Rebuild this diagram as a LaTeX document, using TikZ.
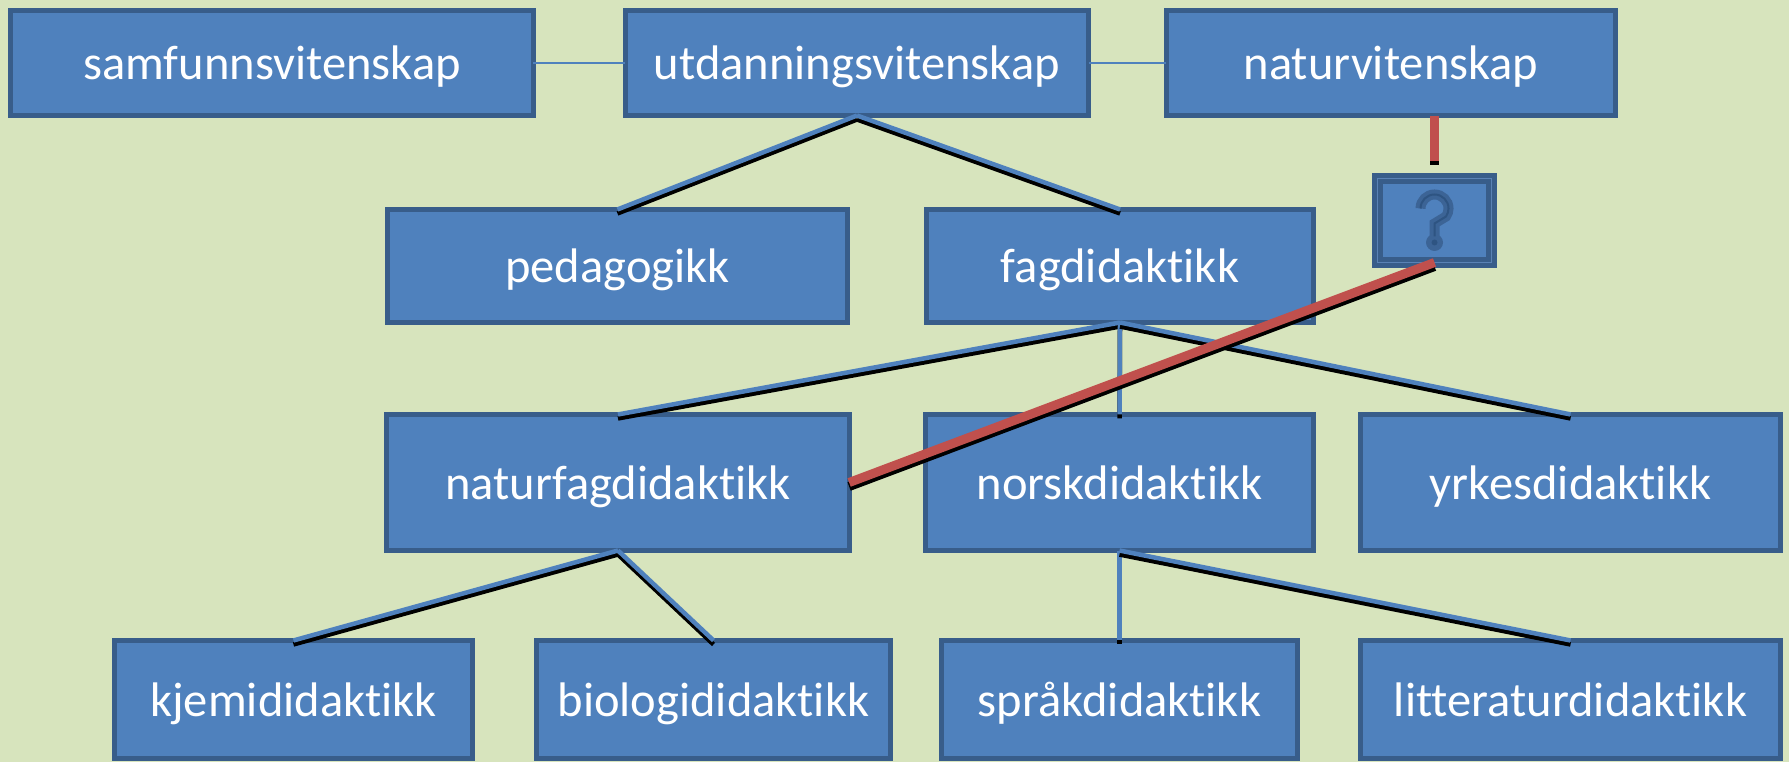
\documentclass[tikz,border=0pt]{standalone}
\usepackage{fontspec}
\setmainfont{Carlito}[Ligatures=NoCommon]
\definecolor{bggreen}{HTML}{D7E4BD}
\definecolor{boxblue}{HTML}{4F81BD}
\definecolor{boxedge}{HTML}{385D8A}
\definecolor{linkred}{HTML}{C0504D}
\definecolor{qline}{HTML}{5A82B5}
\definecolor{qicon}{HTML}{3C6496}
\definecolor{qdark}{HTML}{2E5482}

\begin{document}
\begin{tikzpicture}[x=0.01cm, y=-0.01cm,
    fag_node/.style={rectangle, draw=boxedge, fill=boxblue, line width=0.05cm, inner sep=0pt, outer sep=0pt, text=white, text height=10.5pt, text depth=1pt, font=\fontsize{13.8}{16}\selectfont},
    q_node/.style={rectangle, draw=boxedge, double=qline, double distance=0.01cm, fill=boxblue, line width=0.05cm, inner sep=0pt, outer sep=0pt, minimum width=1.14cm, minimum height=0.84cm},
    link_line/.style={draw=boxblue, line width=0.045cm, preaction={draw=black, line width=0.045cm, transform canvas={yshift=-0.04cm}}},
    red_line/.style={draw=linkred, line width=0.09cm, preaction={draw=black, line width=0.09cm, transform canvas={yshift=-0.04cm}}},
    thin_line/.style={draw=boxblue, line width=0.015cm}]

    \fill[bggreen] (0,0) rectangle (1789,762);
    \useasboundingbox (0,0) rectangle (1789,762);

    \node[fag_node, minimum width=5.22cm, minimum height=1.05cm] (samf) at (272,63) {samfunnsvitenskap};
    \node[fag_node, minimum width=4.63cm, minimum height=1.05cm] (utd) at (857,63) {utdanningsvitenskap};
    \node[fag_node, minimum width=4.49cm, minimum height=1.05cm] (natvit) at (1391,63) {naturvitenskap};

    \node[fag_node, minimum width=4.60cm, minimum height=1.13cm] (ped) at (617.5,266) {pedagogikk};
    \node[fag_node, minimum width=3.87cm, minimum height=1.13cm] (fag) at (1120,266) {fagdidaktikk};
    \node[q_node] (q) at (1434.5,220.5) {};

    \node[fag_node, minimum width=4.62cm, minimum height=1.36cm] (natfag) at (618,482.5) {naturfagdidaktikk};
    \node[fag_node, minimum width=3.88cm, minimum height=1.36cm] (norsk) at (1119.5,482.5) {norskdidaktikk};
    \node[fag_node, minimum width=4.20cm, minimum height=1.36cm] (yrkes) at (1570.5,482.5) {yrkesdidaktikk};

    \node[fag_node, minimum width=3.58cm, minimum height=1.18cm] (kjemi) at (293.5,699.5) {kjemididaktikk};
    \node[fag_node, minimum width=3.54cm, minimum height=1.18cm] (bio) at (713.5,699.5) {biologididaktikk};
    \node[fag_node, minimum width=3.56cm, minimum height=1.18cm] (sprak) at (1119.5,699.5) {språkdidaktikk};
    \node[fag_node, minimum width=4.20cm, minimum height=1.18cm] (litt) at (1570.5,699.5) {litteraturdidaktikk};

    % question mark
    \begin{scope}[shift={(q.center)}, x=0.01cm, y=0.01cm]
        \draw[qicon, line width=0.1cm] (-14,12) arc[start angle=180, end angle=-35, radius=14] -- (0,-3) -- (0,-16);
        \fill[qicon] (0,-22) circle[radius=8.5];
        \draw[qdark, line width=0.02cm] (-14,12) arc[start angle=180, end angle=-35, radius=14] -- (0,-3) -- (0,-16);
        \fill[qdark] (0,-22) circle[radius=3];
    \end{scope}

    \draw[thin_line] (samf.east) -- (utd.west);
    \draw[thin_line] (utd.east) -- (natvit.west);

    \draw[link_line] (utd.south) -- (ped.north);
    \draw[link_line] (utd.south) -- (fag.north);
    \draw[link_line] (fag.south) -- (natfag.north);
    \draw[link_line] (fag.south) -- (norsk.north);
    \draw[link_line] (fag.south) -- (yrkes.north);
    \draw[link_line] (natfag.south) -- (kjemi.north);
    \draw[link_line] (natfag.south) -- (bio.north);
    \draw[link_line] (norsk.south) -- (sprak.north);
    \draw[link_line] (norsk.south) -- (litt.north);

    \coordinate (stub) at (1434.5,161);
    \draw[red_line] (natvit.south -| q.north) -- (stub);
    \draw[red_line] (q.south) -- (natfag.east);

\end{tikzpicture}
\end{document}
